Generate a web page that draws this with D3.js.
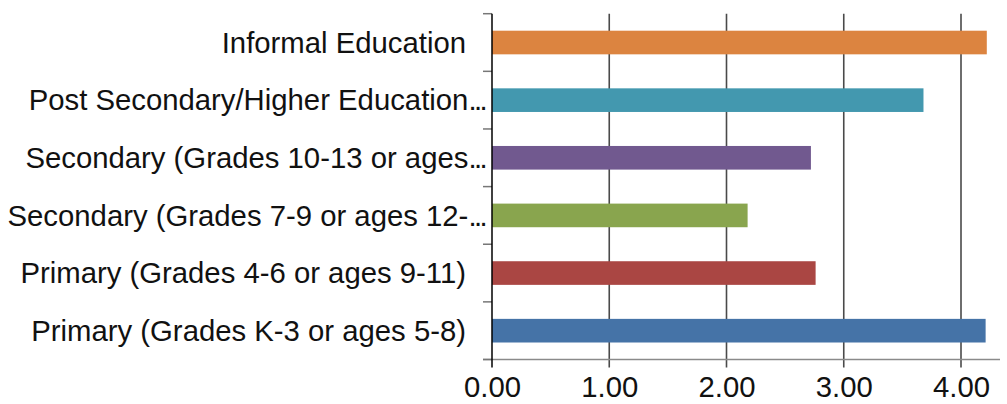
<!DOCTYPE html>
<html>
<head>
<meta charset="utf-8">
<script src="https://cdn.jsdelivr.net/npm/d3@7"></script>
<style>
  html, body { margin: 0; padding: 0; background: #fff; }
  svg { display: block; }
  text { font-family: "Liberation Sans", Arial, sans-serif; }
</style>
</head>
<body>
<svg id="chart" width="1007" height="404"></svg>
<script>
const categories = [
  "Informal Education",
  "Post Secondary/Higher Education",
  "Secondary (Grades 10-13 or ages",
  "Secondary (Grades 7-9 or ages 12-",
  "Primary (Grades 4-6 or ages 9-11)",
  "Primary (Grades K-3 or ages 5-8)"
];
const truncated = [false, true, true, true, false, false];
const values = [4.22, 3.68, 2.72, 2.18, 2.76, 4.21];
const colors = ["#DC8440", "#4398AF", "#71598F", "#89A54E", "#AA4643", "#4573A7"];
const xTicks = [0, 1, 2, 3, 4];

const svg = d3.select("#chart");
const plotLeft = 492, plotTop = 13.7, plotBottom = 359.5, plotRight = 1000;
const fontSize = 29.3;

const x = d3.scaleLinear().domain([0, 4]).range([plotLeft, 961]);
const y = d3.scaleBand().domain(categories).range([plotTop, plotBottom])
  .paddingInner(0.59).paddingOuter(0.295);
const step = y.step();

// gridlines (extend below axis as ticks)
svg.append("g").selectAll("line").data(xTicks.slice(1)).join("line")
  .attr("x1", d => x(d)).attr("x2", d => x(d))
  .attr("y1", plotTop).attr("y2", plotBottom + 8)
  .attr("stroke", "#4a4a4a").attr("stroke-width", 1.6);

// bars
svg.append("g").selectAll("rect").data(categories).join("rect")
  .attr("x", x(0))
  .attr("y", d => y(d))
  .attr("height", y.bandwidth())
  .attr("width", (d, i) => x(values[i]) - x(0))
  .attr("fill", (d, i) => colors[i]);

// x axis
const xAxis = d3.axisBottom(x).tickValues(xTicks).tickFormat(d3.format(".2f")).tickSize(0).tickPadding(17);
const gx = svg.append("g").attr("transform", `translate(0,${plotBottom})`).call(xAxis);
gx.select(".domain").remove();
gx.selectAll("text").attr("font-size", fontSize).attr("fill", "#111")
  .attr("font-family", "'Liberation Sans', Arial, sans-serif").attr("dy", "0.71em");
svg.append("line").attr("x1", plotLeft - 9).attr("x2", plotRight)
  .attr("y1", plotBottom).attr("y2", plotBottom)
  .attr("stroke", "#8a8a8a").attr("stroke-width", 1.5);

// y axis tick marks at band boundaries
const bounds = d3.range(categories.length + 1).map(i => plotTop + i * step);
svg.append("g").selectAll("line").data(bounds).join("line")
  .attr("x1", plotLeft - 9).attr("x2", plotLeft)
  .attr("y1", d => d).attr("y2", d => d)
  .attr("stroke", "#777").attr("stroke-width", 1.5);

// y axis line
svg.append("line").attr("x1", plotLeft).attr("x2", plotLeft)
  .attr("y1", plotTop).attr("y2", plotBottom + 8)
  .attr("stroke", "#000").attr("stroke-width", 1.5);

// category labels
const labels = svg.append("g").selectAll("text").data(categories).join("text")
  .attr("x", (d, i) => truncated[i] ? 485 : 466)
  .attr("y", d => y(d) + y.bandwidth() / 2)
  .attr("dy", "0.35em")
  .attr("text-anchor", "end")
  .attr("font-size", fontSize)
  .attr("fill", "#111");
labels.append("tspan").text(d => d);
labels.filter((d, i) => truncated[i]).append("tspan")
  .attr("letter-spacing", "-2.6px")
  .text("...");
</script>
</body>
</html>
